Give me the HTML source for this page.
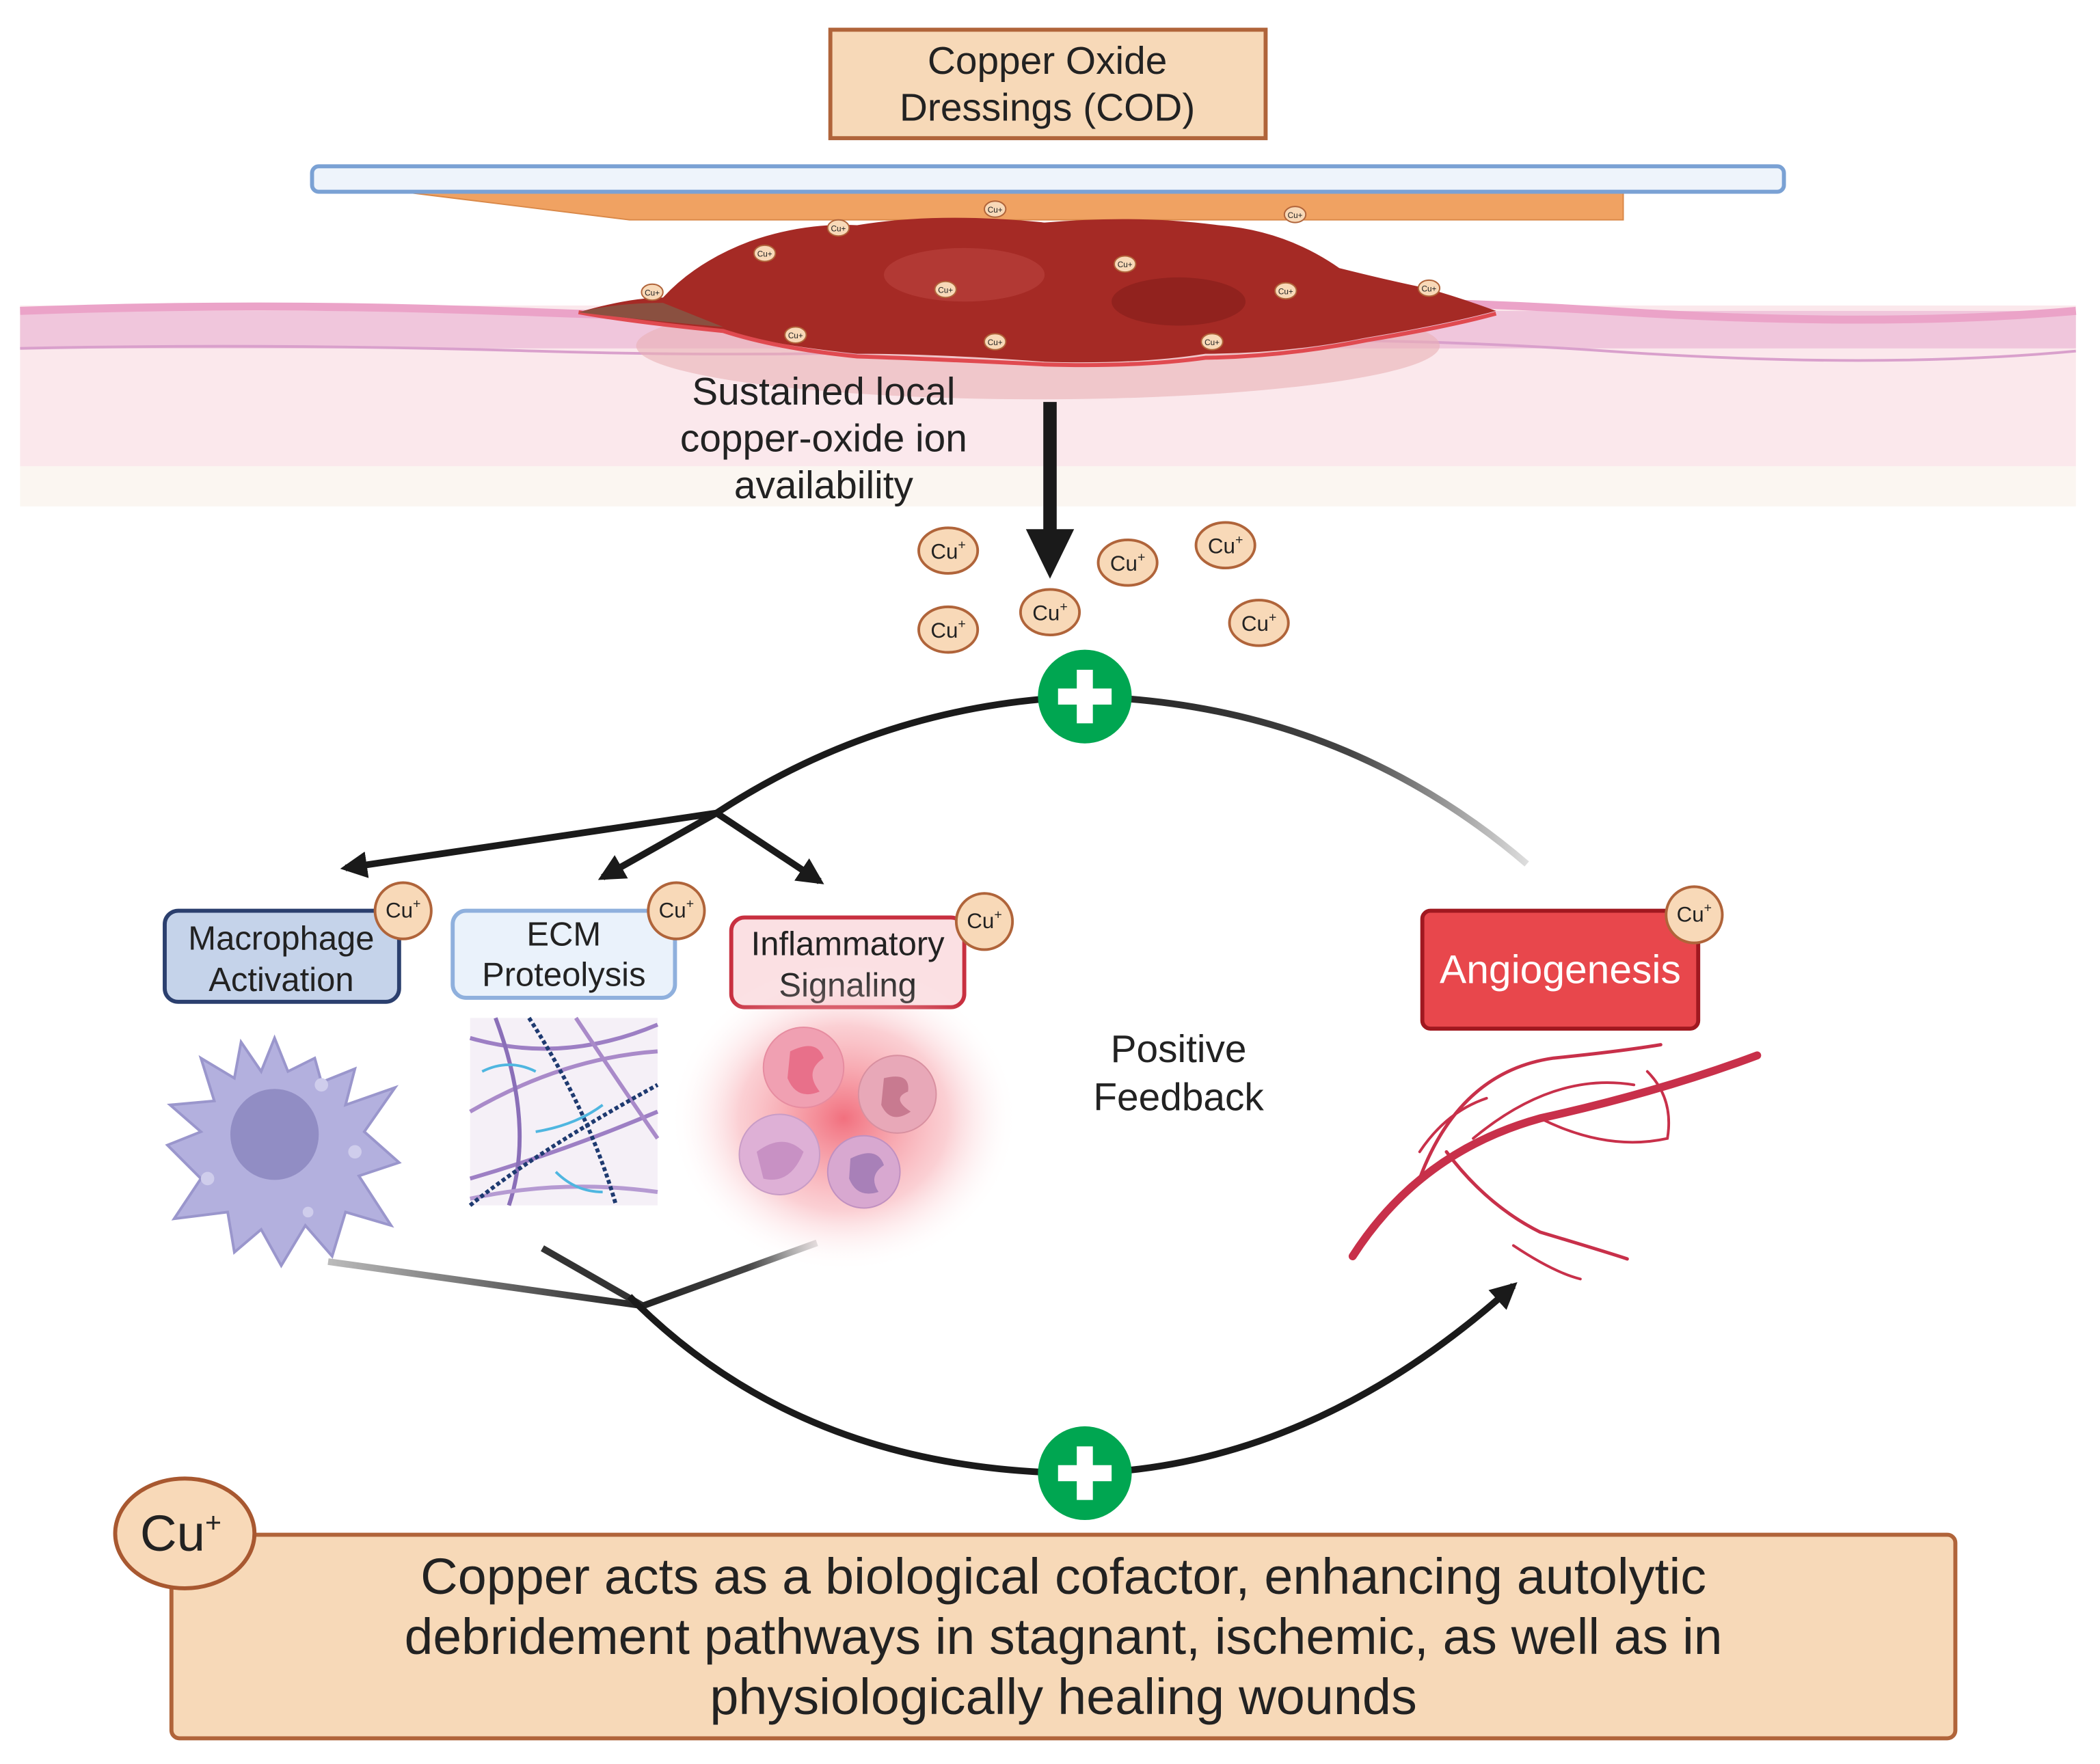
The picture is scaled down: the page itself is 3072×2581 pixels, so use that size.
<!DOCTYPE html>
<html><head><meta charset="utf-8"><style>html,body{margin:0;padding:0;background:#fff}svg{display:block}</style></head>
<body>
<svg width="3072" height="2581" viewBox="0 0 1568 1317" xmlns="http://www.w3.org/2000/svg" font-family="Liberation Sans, sans-serif">
<defs>
<radialGradient id="glow" cx="0.5" cy="0.5" r="0.5"><stop offset="0" stop-color="#f06070" stop-opacity="0.9"/><stop offset="0.6" stop-color="#f7a0a8" stop-opacity="0.5"/><stop offset="1" stop-color="#fff" stop-opacity="0"/></radialGradient>
<linearGradient id="fadeR" x1="0" x2="1"><stop offset="0" stop-color="#222"/><stop offset="0.6" stop-color="#444"/><stop offset="1" stop-color="#ddd"/></linearGradient>
<linearGradient id="fadeL" x1="1" x2="0"><stop offset="0" stop-color="#222"/><stop offset="1" stop-color="#bbb"/></linearGradient>
<marker id="ah" viewBox="0 0 10 10" refX="8" refY="5" markerWidth="4" markerHeight="4" orient="auto"><path d="M0,0 L10,5 L0,10 z" fill="#1a1a1a"/></marker>
<g id="cu"><ellipse rx="22" ry="17" fill="#f8d9b8" stroke="#b0643a" stroke-width="2"/><text y="6" text-anchor="middle" font-size="16" fill="#222">Cu<tspan font-size="10" dy="-7">+</tspan></text></g>
<g id="cus"><ellipse rx="8" ry="6" fill="#f8d9b8" stroke="#b0643a" stroke-width="1"/><text y="2.5" text-anchor="middle" font-size="6" fill="#222">Cu+</text></g>
<g id="cuc"><circle r="21" fill="#f8d9b8" stroke="#b0643a" stroke-width="2"/><text y="5" text-anchor="middle" font-size="16" fill="#222">Cu<tspan font-size="10" dy="-7">+</tspan></text></g>
</defs>
<rect width="1568" height="1317" fill="#fff"/>
<!-- skin -->
<rect x="15" y="228" width="1535" height="150" fill="#fbf6f1"/>
<rect x="15" y="228" width="1535" height="120" fill="#fbe8ec"/>
<rect x="15" y="232" width="1535" height="28" fill="#f0c6dc"/>
<path d="M15,232 Q200,225 400,233 T800,230 T1200,232 T1550,232" stroke="#eba3c8" stroke-width="6" fill="none"/>
<path d="M15,260 Q200,256 400,262 T800,258 T1200,262 T1550,262" stroke="#d9a0cc" stroke-width="2" fill="none"/>
<ellipse cx="775" cy="258" rx="300" ry="40" fill="#eab0b5" opacity="0.6"/>
<!-- COD box -->
<rect x="620" y="22" width="325" height="81" fill="#f7d9b8" stroke="#b0643a" stroke-width="3"/>
<text x="782" y="55" text-anchor="middle" font-size="29" fill="#222">Copper Oxide</text>
<text x="782" y="90" text-anchor="middle" font-size="29" fill="#222">Dressings (COD)</text>
<!-- dressing -->
<path d="M300,143 L1212,143 L1212,164 L470,164 Z" fill="#f0a262" stroke="#d98848"/>
<rect x="233" y="124" width="1099" height="19" rx="5" fill="#eef4fb" stroke="#7aa1d4" stroke-width="3"/>
<!-- wound -->
<path d="M432,233 Q470,222 495,222 Q520,195 560,180 Q600,166 640,168 Q700,158 780,166 Q850,160 910,168 Q960,172 1000,200 Q1040,210 1065,215 Q1090,222 1117,232 Q1080,242 1020,252 Q960,264 900,264 Q850,272 780,270 Q700,264 640,264 Q580,258 540,247 Q470,240 432,233 Z" fill="#a52a25"/>
<path d="M432,233 Q470,240 540,247 Q580,260 640,266 Q700,268 780,272 Q850,274 900,267 Q960,266 1020,254 Q1080,244 1117,234" stroke="#e04a50" stroke-width="3" fill="none"/>
<path d="M432,233 Q460,226 495,226 L540,244 Q470,238 432,233Z" fill="#8a5040"/>
<ellipse cx="720" cy="205" rx="60" ry="20" fill="#b8403a" opacity="0.7"/>
<ellipse cx="880" cy="225" rx="50" ry="18" fill="#7e1a18" opacity="0.5"/>
<use href="#cus" x="743" y="156"/><use href="#cus" x="967" y="160"/><use href="#cus" x="626" y="170"/><use href="#cus" x="571" y="189"/><use href="#cus" x="840" y="197"/><use href="#cus" x="487" y="218"/><use href="#cus" x="706" y="216"/><use href="#cus" x="960" y="217"/><use href="#cus" x="1067" y="215"/><use href="#cus" x="594" y="250"/><use href="#cus" x="743" y="255"/><use href="#cus" x="905" y="255"/>
<!-- text + arrow -->
<text x="615" y="302" text-anchor="middle" font-size="29" fill="#222">Sustained local</text>
<text x="615" y="337" text-anchor="middle" font-size="29" fill="#222">copper-oxide ion</text>
<text x="615" y="372" text-anchor="middle" font-size="29" fill="#222">availability</text>
<line x1="784" y1="300" x2="784" y2="400" stroke="#1a1a1a" stroke-width="10"/>
<path d="M766,395 L802,395 L784,432 Z" fill="#1a1a1a"/>
<use href="#cu" x="708" y="411"/><use href="#cu" x="842" y="420"/><use href="#cu" x="915" y="407"/><use href="#cu" x="784" y="457"/><use href="#cu" x="708" y="470"/><use href="#cu" x="940" y="465"/>
<!-- loop -->
<path d="M535,607 Q660,525 810,520" stroke="#1a1a1a" stroke-width="5" fill="none"/>
<path d="M810,520 Q1000,525 1140,645" stroke="url(#fadeR)" stroke-width="5" fill="none"/>
<line x1="535" y1="607" x2="258" y2="648" stroke="#1a1a1a" stroke-width="5" marker-end="url(#ah)"/>
<line x1="535" y1="607" x2="450" y2="655" stroke="#1a1a1a" stroke-width="5" marker-end="url(#ah)"/>
<line x1="535" y1="607" x2="612" y2="658" stroke="#1a1a1a" stroke-width="5" marker-end="url(#ah)"/>
<path d="M245,942 L480,975" stroke="url(#fadeL)" stroke-width="5" fill="none"/>
<path d="M405,932 L480,975" stroke="#333" stroke-width="5" fill="none"/>
<path d="M610,928 L480,975" stroke="url(#fadeR)" stroke-width="5" fill="none"/>
<path d="M470,968 Q600,1100 810,1100 Q980,1095 1130,960" stroke="#1a1a1a" stroke-width="5" fill="none" marker-end="url(#ah)"/>
<g><circle cx="810" cy="520" r="35" fill="#00a651"/><rect x="790" y="514" width="40" height="12" fill="#fff"/><rect x="804" y="500" width="12" height="40" fill="#fff"/></g>
<g><circle cx="810" cy="1100" r="35" fill="#00a651"/><rect x="790" y="1094" width="40" height="12" fill="#fff"/><rect x="804" y="1080" width="12" height="40" fill="#fff"/></g>
<!-- boxes -->
<rect x="123" y="680" width="175" height="68" rx="10" fill="#c5d3ea" stroke="#2b3f6e" stroke-width="3"/>
<text x="210" y="709" text-anchor="middle" font-size="25" fill="#222">Macrophage</text>
<text x="210" y="740" text-anchor="middle" font-size="25" fill="#222">Activation</text>
<use href="#cuc" x="301" y="680"/>
<rect x="338" y="680" width="166" height="65" rx="10" fill="#eaf2fb" stroke="#8fb0dd" stroke-width="3"/>
<text x="421" y="706" text-anchor="middle" font-size="25" fill="#222">ECM</text>
<text x="421" y="736" text-anchor="middle" font-size="25" fill="#222">Proteolysis</text>
<use href="#cuc" x="505" y="680"/>
<rect x="546" y="685" width="174" height="67" rx="10" fill="#fbe0e3" stroke="#c83040" stroke-width="3"/>
<text x="633" y="713" text-anchor="middle" font-size="25" fill="#222">Inflammatory</text>
<text x="633" y="744" text-anchor="middle" font-size="25" fill="#222">Signaling</text>
<use href="#cuc" x="735" y="688"/>
<rect x="1062" y="680" width="206" height="88" rx="6" fill="#e8474c" stroke="#a01820" stroke-width="3"/>
<text x="1165" y="734" text-anchor="middle" font-size="30" fill="#fff">Angiogenesis</text>
<use href="#cuc" x="1265" y="683"/>
<!-- macrophage -->
<g fill="#b3b0de" stroke="#9a96cc" stroke-width="2">
<path d="M150,790 L175,805 L180,778 L195,800 L205,775 L215,800 L235,790 L240,808 L265,798 L258,825 L295,812 L272,845 L298,868 L268,878 L292,915 L258,905 L248,938 L228,915 L210,945 L195,918 L175,935 L170,905 L130,910 L150,880 L125,855 L150,845 L127,825 L160,822 Z"/>
</g>
<ellipse cx="205" cy="847" rx="33" ry="34" fill="#918dc4"/>
<circle cx="240" cy="810" r="5" fill="#cfcdec"/><circle cx="265" cy="860" r="5" fill="#cfcdec"/><circle cx="155" cy="880" r="5" fill="#cfcdec"/><circle cx="230" cy="905" r="4" fill="#cfcdec"/>
<!-- ECM -->
<rect x="351" y="760" width="140" height="140" fill="#f5f0f7"/>
<g fill="none" stroke-width="3">
<path d="M351,775 Q420,795 491,765" stroke="#9d7fc4"/><path d="M351,830 Q420,790 491,785" stroke="#a98ac9"/><path d="M351,880 Q420,860 491,830" stroke="#9d7fc4"/><path d="M370,760 Q400,840 380,900" stroke="#8a6fb8"/><path d="M430,760 Q470,820 491,850" stroke="#a98ac9"/><path d="M351,895 Q420,880 491,890" stroke="#b59ad2"/>
<path d="M395,760 Q440,830 460,900" stroke="#1e3a70" stroke-dasharray="3 2"/><path d="M351,900 Q400,860 491,810" stroke="#1e3a70" stroke-dasharray="3 2"/>
<path d="M360,800 Q380,790 400,800" stroke="#4fb6e0" stroke-width="2"/><path d="M400,845 Q430,840 450,825" stroke="#4fb6e0" stroke-width="2"/><path d="M415,875 Q430,890 450,890" stroke="#4fb6e0" stroke-width="2"/>
</g>
<!-- neutrophils -->
<ellipse cx="630" cy="835" rx="130" ry="115" fill="url(#glow)"/>
<circle cx="600" cy="797" r="30" fill="#f0a0b2" stroke="#e68ca0"/><path d="M590,785 Q610,775 615,790 Q600,800 612,815 Q595,822 588,805Z" fill="#e8708a"/>
<circle cx="670" cy="817" r="29" fill="#e8a8b8" stroke="#d890a0"/><path d="M660,805 Q680,800 678,815 Q665,820 680,830 Q665,840 658,825Z" fill="#c87a90"/>
<circle cx="582" cy="862" r="30" fill="#deb0d6" stroke="#c89cc6"/><path d="M565,860 Q585,845 600,860 Q590,885 570,880Z" fill="#c891c4"/>
<circle cx="645" cy="875" r="27" fill="#d8a8d0" stroke="#c090c0"/><path d="M635,865 Q655,855 660,870 Q648,878 656,890 Q640,895 634,880Z" fill="#a880b8"/>
<text x="880" y="793" text-anchor="middle" font-size="29" fill="#222">Positive</text>
<text x="880" y="829" text-anchor="middle" font-size="29" fill="#222">Feedback</text>
<!-- vessels -->
<g fill="none" stroke="#c8304a" stroke-linecap="round">
<path d="M1010,938 Q1060,860 1150,835 Q1240,815 1312,788" stroke-width="6"/>
<path d="M1060,880 Q1090,800 1160,790 Q1210,785 1240,780" stroke-width="2.5"/>
<path d="M1080,860 Q1110,900 1150,920 Q1200,935 1215,940" stroke-width="2.5"/>
<path d="M1100,850 Q1160,800 1220,810" stroke-width="2"/>
<path d="M1150,835 Q1200,860 1245,850 Q1250,820 1230,800" stroke-width="2"/>
<path d="M1060,860 Q1080,830 1110,820" stroke-width="2"/>
<path d="M1130,930 Q1160,950 1180,955" stroke-width="2"/>
</g>
<!-- bottom -->
<rect x="128" y="1146" width="1332" height="152" rx="6" fill="#f7d9b8" stroke="#b0643a" stroke-width="3"/>
<text x="794" y="1190" text-anchor="middle" font-size="38" textLength="960" lengthAdjust="spacingAndGlyphs" fill="#222">Copper acts as a biological cofactor, enhancing autolytic</text>
<text x="794" y="1235" text-anchor="middle" font-size="38" textLength="984" lengthAdjust="spacingAndGlyphs" fill="#222">debridement pathways in stagnant, ischemic, as well as in</text>
<text x="794" y="1280" text-anchor="middle" font-size="38" textLength="528" lengthAdjust="spacingAndGlyphs" fill="#222">physiologically healing wounds</text>
<ellipse cx="138" cy="1145" rx="52" ry="41" fill="#f8d9b8" stroke="#a85830" stroke-width="3"/>
<text x="135" y="1158" text-anchor="middle" font-size="38" fill="#222">Cu<tspan font-size="21" dy="-14">+</tspan></text>
</svg>
</body></html>
